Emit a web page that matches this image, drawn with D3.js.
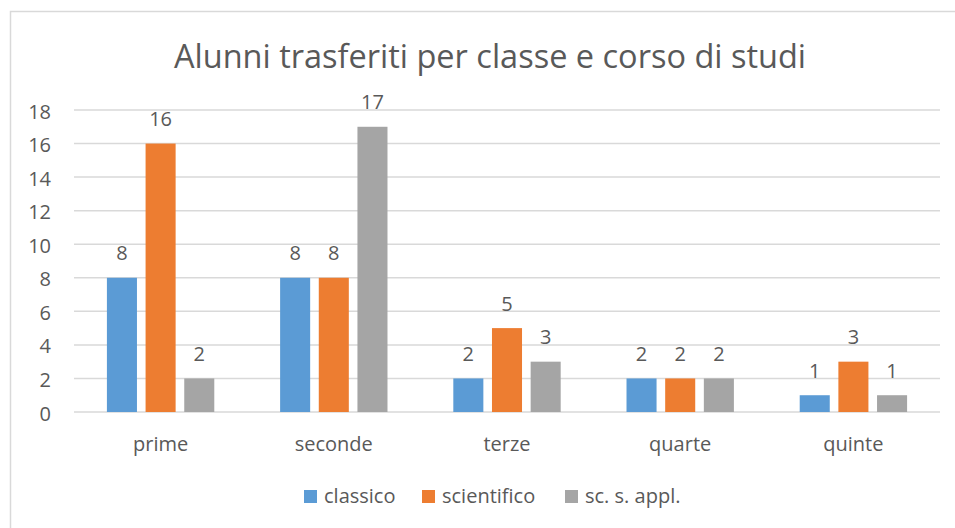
<!DOCTYPE html>
<html>
<head>
<meta charset="utf-8">
<script src="https://cdn.jsdelivr.net/npm/d3@7"></script>
<style>
  body { margin: 0; background: #fff; }
  text { font-family: "Open Sans", "Noto Sans", sans-serif; fill: #595959; }
</style>
</head>
<body>
<script>
  // categories, series and values
  var categories = ["prime", "seconde", "terze", "quarte", "quinte"];
  var seriesNames = ["classico", "scientifico", "sc. s. appl."];
  var classico = [8, 8, 2, 2, 1];
  var scientifico = [16, 8, 5, 2, 3];
  var scApplicate = [2, 17, 3, 2, 1];
  var yTicks = [0, 2, 4, 6, 8, 10, 12, 14, 16, 18];
  var colors = ["#5B9BD5", "#ED7D31", "#A5A5A5"];

  var seriesValues = [classico, scientifico, scApplicate];

  var width = 955;
  var height = 528;
  var plot = {left: 74, right: 940, top: 110, bottom: 412};

  var svg = d3.select("body")
              .append("svg")
              .attr("width", width)
              .attr("height", height);

  // chart frame
  svg.append("rect")
     .attr("x", 10.5)
     .attr("y", 11.5)
     .attr("width", 970)
     .attr("height", 540)
     .attr("fill", "none")
     .attr("stroke", "#d9d9d9")
     .attr("stroke-width", 1.5);

  // scales
  var yScale = d3.scaleLinear()
                 .domain([0, 18])
                 .range([plot.bottom, plot.top]);

  var x0 = d3.scaleBand()
             .domain(categories)
             .range([plot.left, plot.right]);

  var groupWidth = 116;
  var x1 = d3.scaleBand()
             .domain(seriesNames)
             .range([(x0.bandwidth() - groupWidth) / 2, (x0.bandwidth() + groupWidth) / 2])
             .paddingInner(0.223)
             .paddingOuter(0.1115);

  // gridlines
  svg.append("g")
     .selectAll("line")
     .data(yTicks)
     .enter()
     .append("line")
     .attr("x1", plot.left)
     .attr("x2", plot.right)
     .attr("y1", function(d) { return yScale(d); })
     .attr("y2", function(d) { return yScale(d); })
     .attr("stroke", "#d9d9d9")
     .attr("stroke-width", 1.5);

  // y axis labels
  var yAxis = d3.axisLeft(yScale)
                .tickValues(yTicks)
                .tickSize(0)
                .tickPadding(23);
  var gy = svg.append("g")
              .attr("transform", "translate(" + plot.left + ",0)")
              .call(yAxis);
  gy.select(".domain").remove();
  gy.selectAll("text")
    .style("font-size", "20px")
    .attr("dy", "0.4em")
    .attr("fill", "#595959");

  // bars, one group per category
  var groups = svg.selectAll("g.cat")
                  .data(categories)
                  .enter()
                  .append("g")
                  .attr("class", "cat")
                  .attr("transform", function(d) { return "translate(" + x0(d) + ",0)"; });

  groups.selectAll("rect")
        .data(function(d, i) {
          return seriesNames.map(function(s, j) { return {series: s, value: seriesValues[j][i], idx: j}; });
        })
        .enter()
        .append("rect")
        .attr("x", function(d) { return x1(d.series); })
        .attr("y", function(d) { return yScale(d.value); })
        .attr("width", x1.bandwidth())
        .attr("height", function(d) { return yScale(0) - yScale(d.value); })
        .attr("fill", function(d) { return colors[d.idx]; });

  // value labels above bars
  groups.selectAll("text.val")
        .data(function(d, i) {
          return seriesNames.map(function(s, j) { return {series: s, value: seriesValues[j][i]}; });
        })
        .enter()
        .append("text")
        .attr("class", "val")
        .attr("x", function(d) { return x1(d.series) + x1.bandwidth() / 2; })
        .attr("y", function(d) { return yScale(d.value) - 17.5; })
        .attr("text-anchor", "middle")
        .style("font-size", "20px")
        .text(function(d) { return d.value; });

  // category labels
  svg.selectAll("text.cat")
     .data(categories)
     .enter()
     .append("text")
     .attr("class", "cat")
     .attr("x", function(d) { return x0(d) + x0.bandwidth() / 2; })
     .attr("y", 451)
     .attr("text-anchor", "middle")
     .style("font-size", "20px")
     .text(function(d) { return d; });

  // title
  svg.append("text")
     .attr("x", 490)
     .attr("y", 68)
     .attr("text-anchor", "middle")
     .style("font-size", "32.5px")
     .text("Alunni trasferiti per classe e corso di studi");

  // legend
  var legendX = [304, 422, 565];
  var legend = svg.selectAll("g.legend")
                  .data(seriesNames)
                  .enter()
                  .append("g")
                  .attr("class", "legend")
                  .attr("transform", function(d, i) { return "translate(" + legendX[i] + ",490)"; });
  legend.append("rect")
        .attr("width", 13)
        .attr("height", 13)
        .attr("fill", function(d, i) { return colors[i]; });
  legend.append("text")
        .attr("x", 20)
        .attr("y", 13)
        .style("font-size", "20px")
        .text(function(d) { return d; });
</script>
</body>
</html>
